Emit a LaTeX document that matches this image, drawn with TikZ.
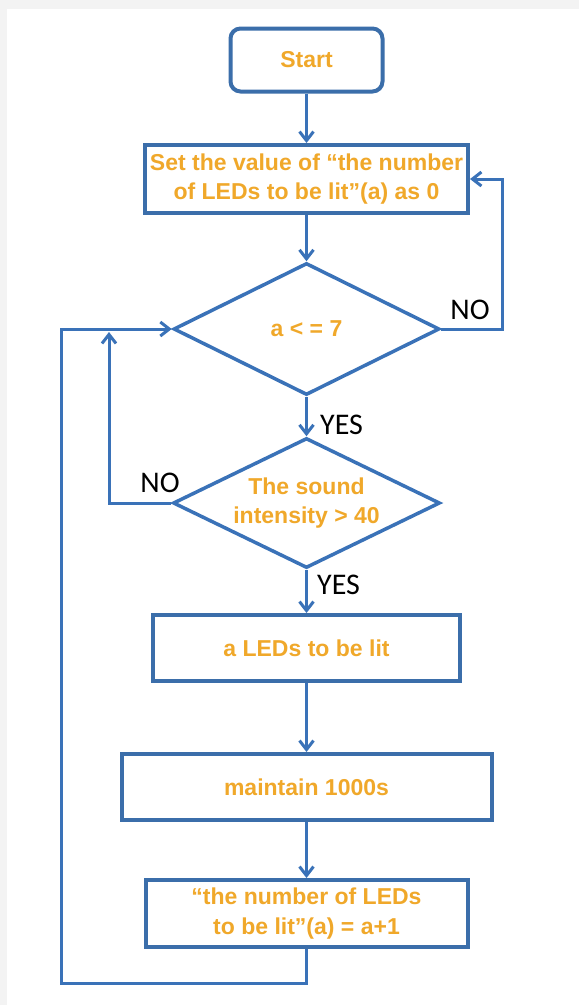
\documentclass[tikz,border=0pt]{standalone}
\usepackage{fontspec}
\setmainfont{Liberation Sans}
\newfontfamily\lblfont{Carlito}
\usetikzlibrary{shapes.geometric,arrows.meta}
\definecolor{flowblue}{HTML}{3B6EAA}
\definecolor{linkblue}{HTML}{3A72B8}
\definecolor{txtorange}{HTML}{F0A82A}
\definecolor{framegray}{HTML}{F3F3F3}
\tikzset{
  boxtext/.style={text=txtorange,font=\fontsize{23}{29.5}\selectfont\bfseries,align=center,inner sep=0pt},
  procbox/.style={boxtext,draw=flowblue,line width=4pt,rectangle},
  startbox/.style={procbox,rounded corners=10pt},
  decbox/.style={boxtext,draw=linkblue,line width=3.5pt,diamond,aspect=2},
  arr/.style={draw=linkblue,line width=3pt,-{Straight Barb[length=9pt,width=14pt,line width=3pt]}},
  lbl/.style={font=\lblfont\fontsize{30}{32}\selectfont,text=black,inner sep=0pt}
}
\begin{document}
\begin{tikzpicture}[x=1pt,y=-1pt]
\useasboundingbox (0,0) rectangle (579,1005);
\fill[framegray] (0,0) rectangle (579,1005);
\fill[white] (7,9) rectangle (579,1005);

\node[startbox,minimum width=152pt,minimum height=63pt] (start) at (306.5,60) {Start};
\node[procbox,minimum width=323pt,minimum height=68pt] (set) at (306.5,179) {Set the value of “the number\\of LEDs to be lit”(a) as 0};
\node[decbox,minimum width=266pt,minimum height=132pt] (d1) at (306.5,329) {a < = 7};
\node[decbox,minimum width=267pt,minimum height=130pt] (d2) at (306.5,503) {The sound\\intensity > 40};
\node[procbox,minimum width=307pt,minimum height=66pt] (b1) at (306.5,648) {a LEDs to be lit};
\node[procbox,minimum width=370pt,minimum height=66pt] (b2) at (306.5,787) {maintain 1000s};
\node[procbox,minimum width=322pt,minimum height=67pt] (b3) at (306.5,913.5) {“the number of LEDs\\to be lit”(a) = a+1};

\coordinate (rno) at (502,329);
\coordinate (lno) at (109,503);
\coordinate (lnoend) at (109,332);
\coordinate (loopl) at (61,329);

\draw[arr] (start.south) -- (set.north);
\draw[arr] (set.south) -- (d1.north);
\draw[arr] (d1.east) -- (rno) |- (set.east);
\draw[arr] (d1.south) -- (d2.north);
\draw[arr] (d2.west) -- (lno) -- (lnoend);
\draw[arr] (d2.south) -- (b1.north);
\draw[arr] (b1.south) -- (b2.north);
\draw[arr] (b2.south) -- (b3.north);
\draw[arr] (b3.south) -- ++(0,34) -| (loopl) -- (d1.west);

\node[lbl] (noa) at (470,310) {NO};
\node[lbl,anchor=west] (yesa) at (320,425) {YES};
\node[lbl] (nob) at (160,483) {NO};
\node[lbl,anchor=west] (yesb) at (317,585) {YES};
\end{tikzpicture}
\end{document}
